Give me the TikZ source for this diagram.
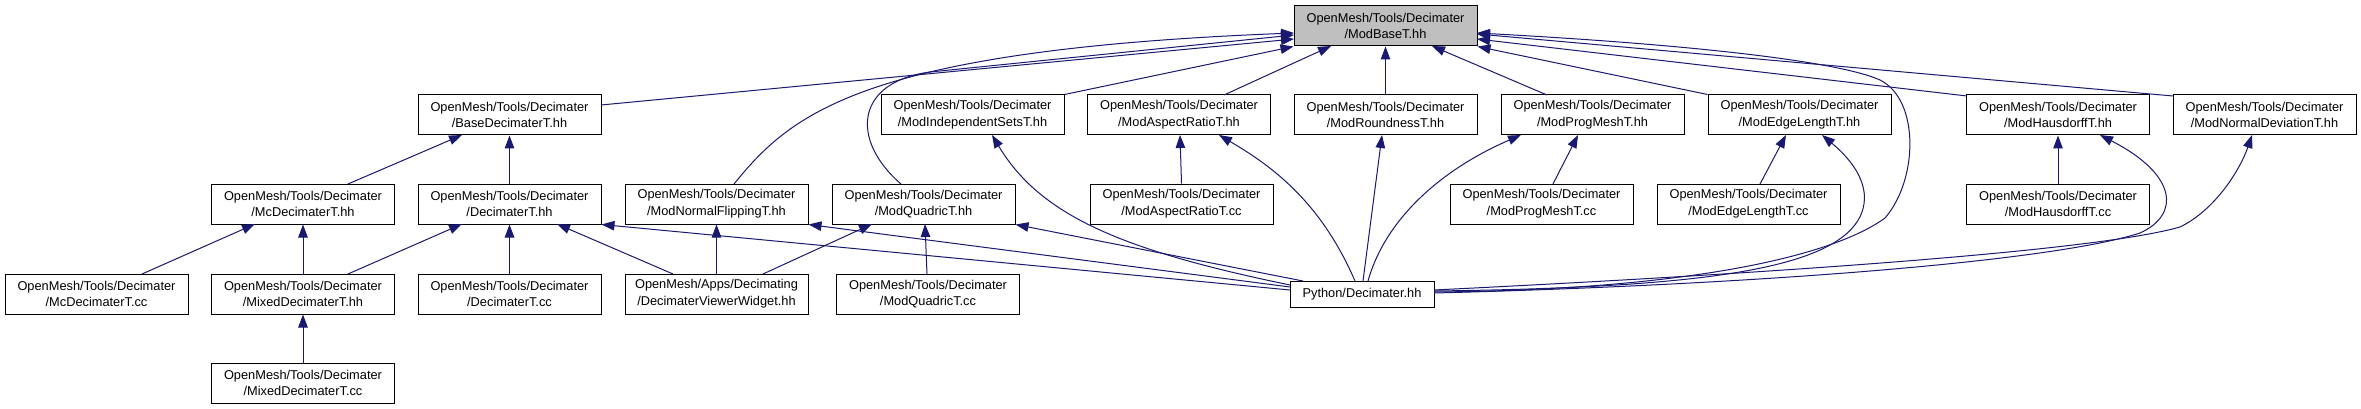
\documentclass[tikz,border=0pt]{standalone}
\usepackage{fontspec}
\setmainfont{Liberation Sans}
\usetikzlibrary{arrows.meta,calc}
\definecolor{edgecol}{HTML}{191970}
\definecolor{rootfill}{HTML}{BFBFBF}
\begin{document}
\begin{tikzpicture}[x=1pt,y=-1pt,
  box/.style={draw=black, line width=1pt, fill=white, minimum width=183pt, minimum height=40pt,
    inner sep=0pt, align=center, font=\fontsize{12.8}{16.7}\selectfont},
  rootbox/.style={box, fill=rootfill},
  edge/.style={draw=edgecol, line width=1pt, -{Triangle[length=13pt,width=9.5pt]}}]
\useasboundingbox (0,0) rectangle (2361,409);
\fill[white] (0,0) rectangle (2361,409);
% row 0
\node[rootbox] (base) at (1385.5,26) {OpenMesh/Tools/Decimater\\/ModBaseT.hh};
% row 1
\node[box] (bdec) at (509.5,115) {OpenMesh/Tools/Decimater\\/BaseDecimaterT.hh};
\node[box] (mis) at (972.5,115) {OpenMesh/Tools/Decimater\\/ModIndependentSetsT.hh};
\node[box] (mar) at (1179,115) {OpenMesh/Tools/Decimater\\/ModAspectRatioT.hh};
\node[box] (mro) at (1385.5,115) {OpenMesh/Tools/Decimater\\/ModRoundnessT.hh};
\node[box] (mpm) at (1592.5,115) {OpenMesh/Tools/Decimater\\/ModProgMeshT.hh};
\node[box] (mel) at (1799.5,115) {OpenMesh/Tools/Decimater\\/ModEdgeLengthT.hh};
\node[box] (mha) at (2058,115) {OpenMesh/Tools/Decimater\\/ModHausdorffT.hh};
\node[box] (mnd) at (2264.5,115) {OpenMesh/Tools/Decimater\\/ModNormalDeviationT.hh};
% row 2
\node[box] (mcdh) at (303,204) {OpenMesh/Tools/Decimater\\/McDecimaterT.hh};
\node[box] (dech) at (509.5,204) {OpenMesh/Tools/Decimater\\/DecimaterT.hh};
\node[box] (mnf) at (716.5,204) {OpenMesh/Tools/Decimater\\/ModNormalFlippingT.hh};
\node[box] (mqh) at (923.5,204) {OpenMesh/Tools/Decimater\\/ModQuadricT.hh};
\node[box] (marc) at (1181.5,204) {OpenMesh/Tools/Decimater\\/ModAspectRatioT.cc};
\node[box] (mpmc) at (1541.5,204) {OpenMesh/Tools/Decimater\\/ModProgMeshT.cc};
\node[box] (melc) at (1748.5,204) {OpenMesh/Tools/Decimater\\/ModEdgeLengthT.cc};
\node[box] (mhac) at (2058,204) {OpenMesh/Tools/Decimater\\/ModHausdorffT.cc};
% row 3
\node[box] (mcdc) at (96.5,294) {OpenMesh/Tools/Decimater\\/McDecimaterT.cc};
\node[box] (mixh) at (303,294) {OpenMesh/Tools/Decimater\\/MixedDecimaterT.hh};
\node[box] (decc) at (509.5,294) {OpenMesh/Tools/Decimater\\/DecimaterT.cc};
\node[box] (dvw) at (716.5,294) {OpenMesh/Apps/Decimating\\/DecimaterViewerWidget.hh};
\node[box] (mqc) at (928,294) {OpenMesh/Tools/Decimater\\/ModQuadricT.cc};
\node[box, minimum width=144pt, minimum height=26pt] (py) at (1362,294) {Python/Decimater.hh};
% row 4
\node[box] (mixc) at (303,383) {OpenMesh/Tools/Decimater\\/MixedDecimaterT.cc};

% edges into ModBaseT
\draw[edge] ($(bdec)+(91.5,-10)$) -- ($(base)+(-91.5,13)$);
\draw[edge] ($(mnf)+(17.5,-20)$) .. controls (790,115) and (860,50) .. ($(base)+(-91.5,7)$);
\draw[edge] ($(mqh)+(-22.5,-20)$) .. controls (850,140) and (855,82) .. (930,72) -- ($(base)+(-91.5,9)$);
\draw[edge] (mis.north east) -- (base.south west);
\draw[edge] ($(mar)+(45,-20)$) -- ($(base)+(-54.5,20)$);
\draw[edge] (mro) -- (base);
\draw[edge] ($(mpm)+(-45.5,-20)$) -- ($(base)+(46.5,20)$);
\draw[edge] (mel.north west) -- (base.south east);
\draw[edge] ($(mha)+(-91,-19)$) -- ($(base)+(91.5,13)$);
\draw[edge] ($(mnd)+(-91.5,-19)$) -- ($(base)+(91.5,8)$);
\draw[edge] ($(py)+(72,-2)$) .. controls (1680,290) and (1830,258) .. (1885,218)
  .. controls (1918,180) and (1920,100) .. (1880,80)
  .. controls (1840,62) and (1700,45) .. ($(base)+(91.5,7)$);

% edges from Python/Decimater.hh
\draw[edge] ($(py)+(-72,-4)$) -- (dech.south east);
\draw[edge] ($(py)+(-72,-7)$) -- (mnf.south east);
\draw[edge] ($(py)+(-59,-13)$) -- (mqh.south east);
\draw[edge] ($(py)+(-72,-9)$) .. controls (1120,250) and (1040,215) .. ($(mis)+(19.5,20)$);
\draw[edge] ($(py)+(-7,-13)$) .. controls (1320,200) and (1270,165) .. ($(mar)+(40,20)$);
\draw[edge] ($(py)+(1,-13)$) -- ($(mro)+(-3.5,20)$);
\draw[edge] ($(py)+(6,-13)$) .. controls (1385,220) and (1440,170) .. ($(mpm)+(-71.5,20)$);
\draw[edge] ($(py)+(72,-3)$) .. controls (1680,288) and (1800,272) .. (1845,235)
  .. controls (1875,210) and (1870,175) .. ($(mel)+(22.5,20)$);
\draw[edge] ($(py)+(72,-1)$) .. controls (1750,285) and (2050,262) .. (2140,233)
  .. controls (2180,215) and (2178,175) .. ($(mha)+(42,20)$);
\draw[edge] ($(py)+(72,-4)$) .. controls (1800,272) and (2100,250) .. (2180,227)
  .. controls (2215,210) and (2240,170) .. ($(mnd)+(-12.5,20)$);

% other edges
\draw[edge] ($(mcdh)+(45,-20)$) -- ($(bdec)+(-47.5,20)$);
\draw[edge] (dech) -- (bdec);
\draw[edge] ($(mcdc)+(45.5,-20)$) -- ($(mcdh)+(-48,20)$);
\draw[edge] (mixh) -- (mcdh);
\draw[edge] ($(mixh)+(45,-20)$) -- ($(dech)+(-47.5,20)$);
\draw[edge] (decc) -- (dech);
\draw[edge] ($(dvw)+(-43.5,-20)$) -- ($(dech)+(47.5,20)$);
\draw[edge] (dvw) -- (mnf);
\draw[edge] ($(dvw)+(46.5,-20)$) -- ($(mqh)+(-51.5,20)$);
\draw[edge] (mixc) -- (mixh);
\draw[edge] (marc.north) -- ($(mar)+(1,20)$);
\draw[edge] ($(mqc)+(-1,-20)$) -- ($(mqh)+(1.5,20)$);
\draw[edge] ($(mpmc)+(11.5,-20)$) -- ($(mpm)+(-14.5,20)$);
\draw[edge] ($(melc)+(11.5,-20)$) -- ($(mel)+(-13.5,20)$);
\draw[edge] (mhac) -- (mha);
\end{tikzpicture}
\end{document}
